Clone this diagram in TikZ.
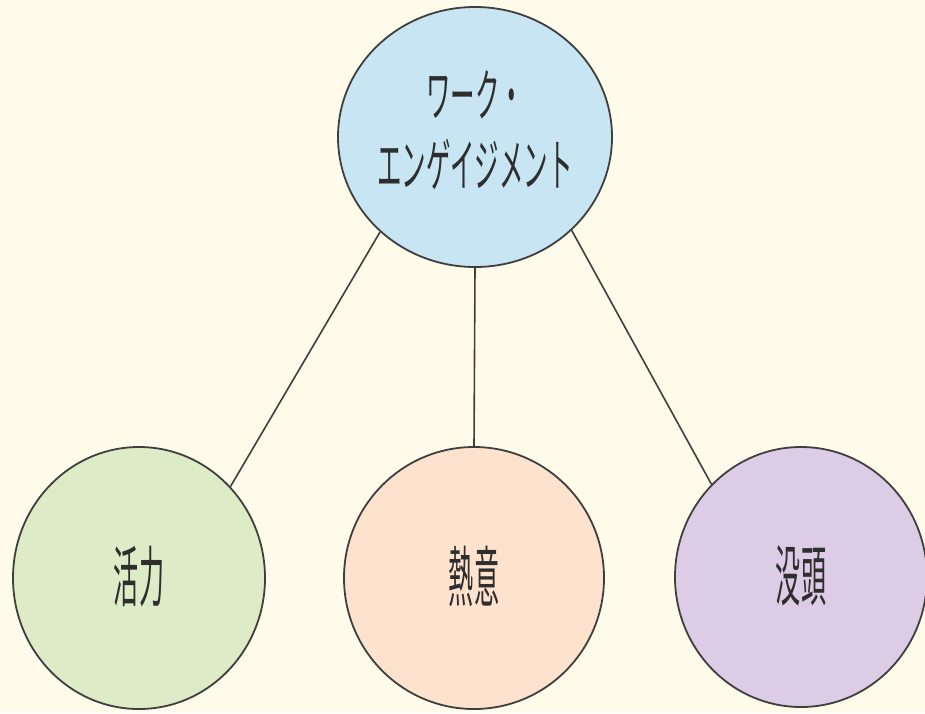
\documentclass[tikz,border=0pt]{standalone}
\usepackage{fontspec}
\newfontfamily\cjk{Noto Sans CJK JP}
\usetikzlibrary{shapes.geometric}
\definecolor{bgcream}{HTML}{FFFBEA}
\definecolor{cblue}{HTML}{C8E5F3}
\definecolor{cgreen}{HTML}{DDEBC6}
\definecolor{cpeach}{HTML}{FDE2CD}
\definecolor{clav}{HTML}{DCCCE6}
\definecolor{edge}{HTML}{3F3F3F}
\definecolor{txt}{HTML}{2E2E2E}
\tikzset{
  bubble/.style={ellipse, draw=edge, line width=1.8pt, inner sep=0pt, text=txt},
  bigfont/.style={font=\cjk\fontsize{57}{70}\selectfont},
  smallfont/.style={font=\cjk\fontsize{66}{80}\selectfont},
  link/.style={draw=edge, line width=1.6pt}
}
\newcommand{\narrowtop}[1]{\makebox[0pt]{\scalebox{0.43}[1]{#1}}}
\newcommand{\narrowbot}[1]{\makebox[0pt]{\raisebox{8pt}{\scalebox{0.38}[1]{#1}}}}
\begin{document}
\begin{tikzpicture}[x=1pt,y=-1pt]
\fill[bgcream] (0,0) rectangle (925,713);
\useasboundingbox (0,0) rectangle (925,713);
\node[bubble, bigfont, fill=cblue, minimum width=274pt, minimum height=260pt] (top) at (475,137)
  {\narrowtop{\begin{tabular}{@{}c@{}}ワーク・\\エンゲイジメント\end{tabular}}};
\node[bubble, smallfont, fill=cgreen, minimum width=252pt, minimum height=262pt] (vig) at (139,578) {\narrowbot{活力}};
\node[bubble, smallfont, fill=cpeach, minimum width=260pt, minimum height=262pt] (ded) at (474,578) {\narrowbot{熱意}};
\node[bubble, smallfont, fill=clav, minimum width=252pt, minimum height=260pt] (abs) at (801,577) {\narrowbot{没頭}};
\draw[link] (top.225) -- (vig.45);
\draw[link] (top.south) -- (ded.north);
\draw[link] (top.-44) -- (abs.134);
\end{tikzpicture}
\end{document}
